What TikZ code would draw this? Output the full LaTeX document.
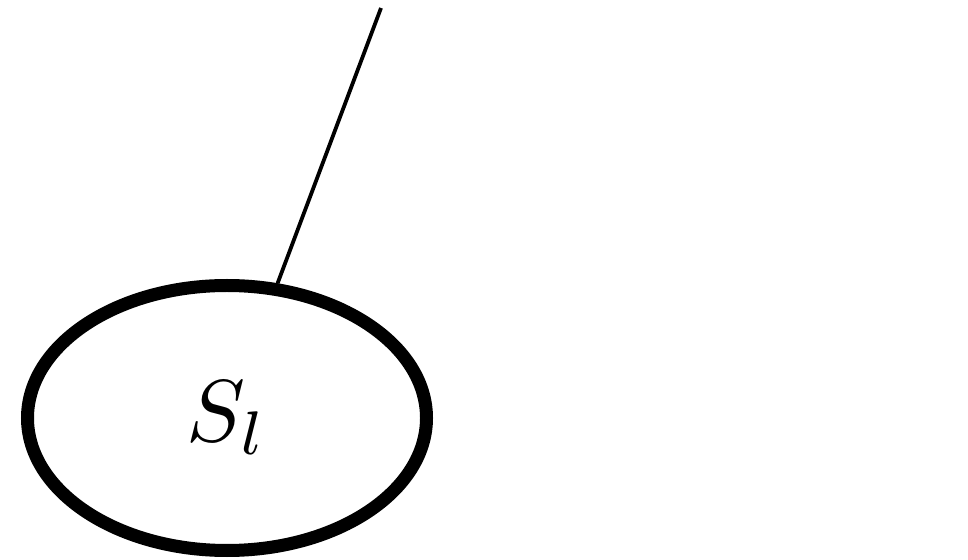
\documentclass[tikz,border=0pt]{standalone}
\usetikzlibrary{shapes.geometric}
\begin{document}
\begin{tikzpicture}[x=0.5pt,y=-0.5pt,
  setnode/.style={ellipse,draw,line width=6.5pt,minimum width=199.5pt,minimum height=132.5pt,inner sep=0pt},
  link/.style={line width=1.9pt}]
\useasboundingbox (0,0) rectangle (968,560);
\node[setnode] (s) at (227,418) {\raisebox{-2pt}{\scalebox{4.4}{$S_l$}}};
\coordinate (t) at (381,8);
\draw[link] (s) -- (t);
\end{tikzpicture}
\end{document}
